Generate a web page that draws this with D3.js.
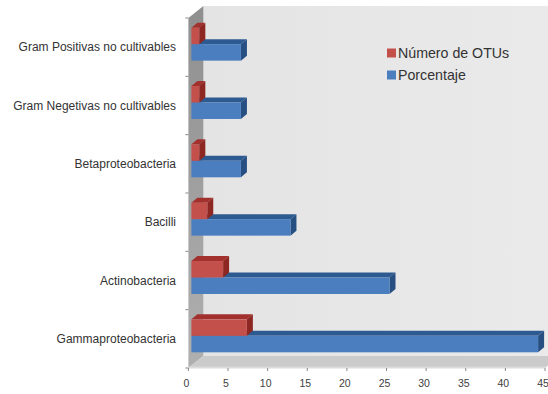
<!DOCTYPE html>
<html><head><meta charset="utf-8">
<script src="https://cdn.jsdelivr.net/npm/d3@7"></script>
<style>body{margin:0;background:#fff}svg{display:block;font-family:"Liberation Sans",Arial,sans-serif}</style>
</head><body><svg id="c" width="548" height="394"></svg>
<script>
const categories = ["Gram Positivas no cultivables","Gram Negetivas no cultivables","Betaproteobacteria","Bacilli","Actinobacteria","Gammaproteobacteria"];
const seriesNames = ["Número de OTUs","Porcentaje"];
const otus = [1,1,1,2,4,7];
const porcentaje = [6.25,6.25,6.25,12.5,25,43.75];
const xTicks = [0,5,10,15,20,25,30,35,40,45];

const svg = d3.select("#c");
const DX = 15, DY = -12;          // wall depth offset
const BX = 3, BY = -3;            // bar front offset
const BDX = 6, BDY = -5;          // bar depth
const x = d3.scaleLinear().domain([0,45]).range([188.4,545]);
const y = d3.scaleBand().domain(categories).range([18,368]).padding(0);
const ys = d3.scaleBand().domain(seriesNames).range([0,y.bandwidth()]).paddingOuter(0.77).paddingInner(0);
const colors = {
  "Número de OTUs": {front:"#c4504c", top:"#a2302d", side:"#8e2622"},
  "Porcentaje": {front:"#4a7ebf", top:"#2d5a91", side:"#274f82"}
};

const defs = svg.append("defs");
const gw = defs.append("linearGradient").attr("id","wall").attr("x1",0).attr("y1",0).attr("x2",1).attr("y2",0);
gw.append("stop").attr("offset","0%").attr("stop-color","#e4e4e4");
gw.append("stop").attr("offset","100%").attr("stop-color","#eaeaea");
const gl = defs.append("linearGradient").attr("id","lwall").attr("x1",0).attr("y1",0).attr("x2",0).attr("y2",1);
gl.append("stop").attr("offset","0%").attr("stop-color","#8f8f8f");
gl.append("stop").attr("offset","100%").attr("stop-color","#b0b0b0");

const x0 = x(0), y0 = y.range()[0], y1 = y.range()[1];
// back wall
svg.append("rect").attr("x",x0+DX).attr("y",y0+DY).attr("width",548-(x0+DX)).attr("height",(y1-y0)).attr("fill","url(#wall)");
// left wall
svg.append("polygon").attr("points",[[x0,y0],[x0+DX,y0+DY],[x0+DX,y1+DY],[x0,y1]].map(p=>p.join(",")).join(" ")).attr("fill","url(#lwall)");
// floor
svg.append("polygon").attr("points",[[x0,y1],[x0+DX,y1+DY],[x(45)+DX,y1+DY],[x(45),y1]].map(p=>p.join(",")).join(" ")).attr("fill","#cbcbcb");
svg.append("rect").attr("x",x0).attr("y",y1-1.5).attr("width",x(45)-x0).attr("height",2).attr("fill","#dcdcdc");

// value axis ticks
const xa = svg.append("g");
xTicks.forEach(t=>{
  xa.append("line").attr("x1",x(t)).attr("x2",x(t)).attr("y1",y1).attr("y2",y1+3).attr("stroke","#888").attr("stroke-width",1);
  xa.append("text").attr("x",x(t)-2).attr("y",387).attr("text-anchor","middle").attr("font-size","10.5px").attr("fill","#404040").text(t);
});
// category ticks
categories.concat(["_end"]).forEach((c,i)=>{
  const yy = y0 + i*y.step();
  svg.append("line").attr("x1",x0-3).attr("x2",x0).attr("y1",yy).attr("y2",yy).attr("stroke","#888");
});
// category labels
svg.append("g").selectAll("text").data(categories).join("text")
  .attr("x",176).attr("y",d=>y(d)+y.bandwidth()/2+4).attr("text-anchor","end")
  .attr("font-size","12px").attr("fill","#333").text(d=>d);

// bars
const data = [];
categories.forEach((c,i)=>{
  data.push({cat:c, s:"Porcentaje", v:porcentaje[i]});
  data.push({cat:c, s:"Número de OTUs", v:otus[i]});
});
const bars = svg.append("g");
data.forEach(d=>{
  const xl = x(0)+BX, xr = x(d.v)+BX;
  const yt = y(d.cat)+ys(d.s)+BY, h = ys.bandwidth();
  const col = colors[d.s];
  const g = bars.append("g");
  g.append("polygon").attr("points",[[xl,yt],[xr,yt],[xr+BDX,yt+BDY],[xl+BDX,yt+BDY]].map(p=>p.join(",")).join(" ")).attr("fill",col.top);
  g.append("polygon").attr("points",[[xr,yt],[xr+BDX,yt+BDY],[xr+BDX,yt+h+BDY],[xr,yt+h]].map(p=>p.join(",")).join(" ")).attr("fill",col.side);
  g.append("rect").attr("x",xl).attr("y",yt).attr("width",xr-xl).attr("height",h).attr("fill",col.front);
});

// legend
const lg = svg.append("g");
seriesNames.forEach((s,i)=>{
  const ly = 53 + i*22;
  lg.append("rect").attr("x",387).attr("y",ly-4.5).attr("width",9).attr("height",9).attr("fill",colors[s].front);
  lg.append("text").attr("x",398).attr("y",ly+5).attr("font-size","14.2px").attr("fill","#333").text(s);
});
</script></body></html>
